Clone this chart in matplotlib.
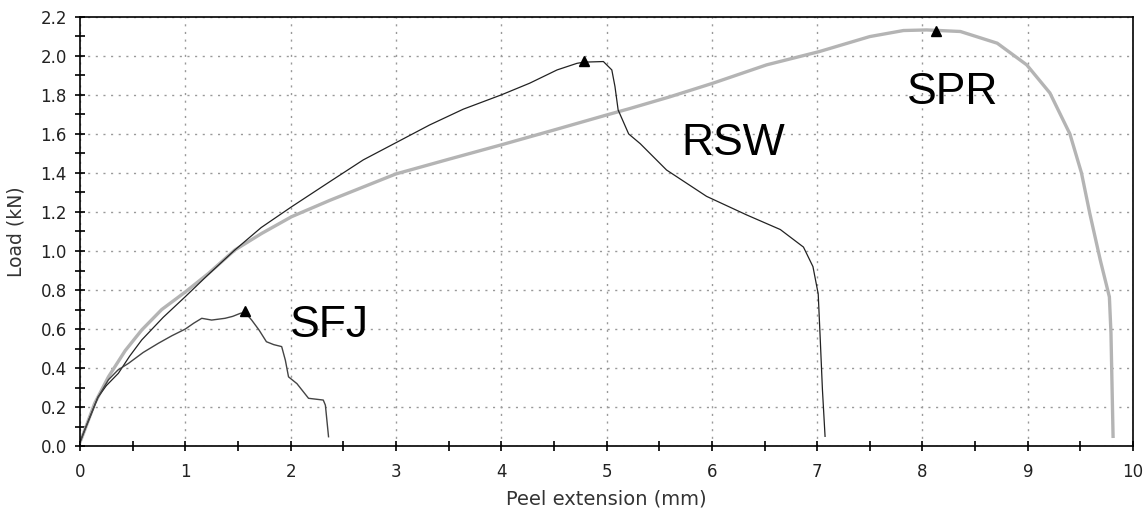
import matplotlib.pyplot as plt
from matplotlib.ticker import MultipleLocator

# curves (peel extension mm, load kN)
sfj_x = [0.0, 0.05, 0.095, 0.17, 0.27, 0.36, 0.46, 0.60, 0.744, 0.87, 1.0, 1.08, 1.156, 1.25,
         1.377, 1.45, 1.52, 1.567, 1.63, 1.70, 1.77, 1.84, 1.915, 1.95, 1.98, 2.06, 2.17,
         2.31, 2.33, 2.36]
sfj_y = [0.02, 0.09, 0.15, 0.25, 0.34, 0.39, 0.424, 0.48, 0.527, 0.565, 0.60, 0.63, 0.655, 0.646,
         0.655, 0.665, 0.68, 0.686, 0.646, 0.595, 0.535, 0.52, 0.51, 0.44, 0.355, 0.32, 0.245,
         0.236, 0.21, 0.048]

rsw_x = [0.0, 0.05, 0.095, 0.17, 0.25, 0.364, 0.47, 0.586, 0.79, 1.0, 1.22, 1.47, 1.72, 2.01,
         2.374, 2.69, 3.0, 3.32, 3.64, 4.0, 4.27, 4.53, 4.72, 4.79, 4.97, 5.05, 5.08, 5.11,
         5.21, 5.32, 5.57, 5.95, 6.33, 6.65, 6.87, 6.96, 7.01, 7.03, 7.05, 7.075]
rsw_y = [0.02, 0.09, 0.15, 0.25, 0.31, 0.373, 0.46, 0.544, 0.66, 0.766, 0.88, 1.005, 1.12, 1.227,
         1.356, 1.467, 1.555, 1.646, 1.727, 1.80, 1.86, 1.928, 1.962, 1.968, 1.971, 1.928, 1.843, 1.723,
         1.60, 1.55, 1.415, 1.28, 1.185, 1.11, 1.02, 0.92, 0.78, 0.54, 0.29, 0.05]

spr_x = [0.0, 0.05, 0.14, 0.27, 0.43, 0.586, 0.776, 1.0, 1.22, 1.47, 1.725, 2.01, 2.374, 3.0,
         3.5, 4.0, 4.5, 5.0, 5.22, 5.6, 6.01, 6.52, 7.02, 7.50, 7.82, 8.04, 8.36, 8.71, 8.99,
         9.21, 9.40, 9.51, 9.59, 9.69, 9.775, 9.79, 9.81]
spr_y = [0.02, 0.09, 0.22, 0.355, 0.49, 0.595, 0.70, 0.79, 0.885, 1.005, 1.09, 1.176, 1.26, 1.395,
         1.47, 1.544, 1.62, 1.697, 1.73, 1.79, 1.86, 1.954, 2.022, 2.099, 2.13, 2.133, 2.125, 2.065, 1.954,
         1.81, 1.60, 1.40, 1.19, 0.95, 0.765, 0.58, 0.05]

# peak markers
peak_x = [1.567, 4.79, 8.13]
peak_y = [0.69, 1.975, 2.13]

labels = ['SFJ', 'RSW', 'SPR']
label_x = [2.37, 6.20, 8.29]
label_y = [0.62, 1.55, 1.81]

fig = plt.figure(figsize=(11.48, 5.11), dpi=100)
ax = fig.add_axes([0.0697, 0.127, 0.9173, 0.840])

ax.plot(spr_x, spr_y, color='#b4b4b4', lw=2.4, solid_joinstyle='round')
ax.plot(rsw_x, rsw_y, color='#222222', lw=0.9)
ax.plot(sfj_x, sfj_y, color='#444444', lw=1.0)
ax.plot(peak_x, peak_y, '^', color='black', ms=7, ls='none')

for t, x, y in zip(labels, label_x, label_y):
    ax.text(x, y, t, fontsize=32, family='Liberation Sans', ha='center', va='center')

ax.set_xlim(0, 10)
ax.set_ylim(0, 2.2)
ax.xaxis.set_major_locator(MultipleLocator(1))
ax.xaxis.set_minor_locator(MultipleLocator(0.5))
ax.yaxis.set_major_locator(MultipleLocator(0.2))
ax.yaxis.set_minor_locator(MultipleLocator(0.1))
ax.yaxis.set_major_formatter(plt.FuncFormatter(lambda v, p: f'{v:.1f}'))
ax.tick_params(which='both', direction='inout', length=7, width=1.2, labelsize=12,
               top=False, right=False, labelcolor='#222222')
ax.tick_params(axis='x', pad=9)
ax.tick_params(axis='y', pad=6)
ax.grid(which='major', color='#999999', linestyle=(0, (1.5, 4)), lw=1)
for s in ax.spines.values():
    s.set_linewidth(1.2)

ax.set_xlabel('Peel extension (mm)', fontsize=14, color='#333333', labelpad=6)
ax.set_ylabel('Load (kN)', fontsize=13.5, color='#333333', labelpad=11)

plt.savefig('out.png', dpi=100)
